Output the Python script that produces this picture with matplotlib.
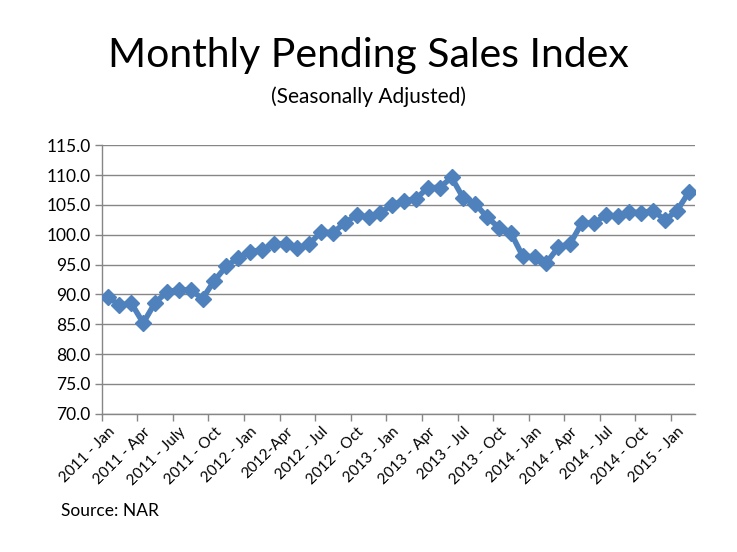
import numpy as np
import matplotlib.pyplot as plt
from matplotlib.ticker import FixedLocator, FormatStrFormatter

plt.rcParams['font.family'] = ['Lato', 'DejaVu Sans']

# --- data (Jan 2011 .. Feb 2015) ---
index_values = [
    89.6, 88.2, 88.5, 85.2, 88.6, 90.4, 90.8, 90.7, 89.3, 92.3,
    94.7, 96.1, 97.1, 97.5, 98.5, 98.4, 97.7, 98.4, 100.5, 100.3,
    102.0, 103.3, 102.9, 103.7, 105.0, 105.7, 106.0, 107.9, 107.9, 109.6,
    106.1, 105.2, 102.9, 101.2, 100.3, 96.4, 96.3, 95.3, 97.9, 98.5,
    102.0, 101.9, 103.3, 103.1, 103.8, 103.7, 104.0, 102.5, 104.0, 107.1,
]
tick_labels = [
    '2011 - Jan', '2011 - Apr', '2011 - July', '2011 - Oct',
    '2012 - Jan', '2012-Apr', '2012 - Jul', '2012 - Oct',
    '2013 - Jan', '2013 - Apr', '2013 - Jul', '2013 - Oct',
    '2014 - Jan', '2014 - Apr', '2014 - Jul', '2014 - Oct',
    '2015 - Jan',
]

x = np.arange(len(index_values))
grey = '#868686'

fig = plt.figure(figsize=(7.37, 5.52), dpi=100)
ax = fig.add_axes([0.138, 0.2505, 0.8046, 0.4865])

ax.plot(x, index_values, color='#4F81BD', linewidth=4, marker='D',
        markersize=8.5, zorder=3, solid_joinstyle='round')

ax.set_xlim(-0.5, len(index_values) - 0.5)
ax.set_ylim(70, 115)
ax.set_yticks(np.arange(70, 115.1, 5))
ax.yaxis.set_major_formatter(FormatStrFormatter('%.1f'))
ax.grid(axis='y', color=grey, linewidth=1)
ax.set_axisbelow(True)

# category labels every 3 months, tick marks on the boundaries
ax.set_xticks(x[::3])
ax.set_xticklabels(tick_labels, rotation=45, ha='right',
                   rotation_mode='anchor', fontsize=11)
ax.xaxis.set_minor_locator(FixedLocator(np.arange(-0.5, len(index_values), 3)))
ax.tick_params(axis='x', which='major', length=0, pad=8)
ax.tick_params(axis='x', which='minor', length=5, color=grey, width=1)
ax.tick_params(axis='y', length=5, color=grey, width=1, labelsize=12.5, pad=3)

for side in ['top', 'right']:
    ax.spines[side].set_visible(False)
for side in ['left', 'bottom']:
    ax.spines[side].set_color(grey)
    ax.spines[side].set_linewidth(1)

fig.text(0.5, 0.90, 'Monthly Pending Sales Index', ha='center', va='center',
         fontsize=29.5)
fig.text(0.5, 0.824, '(Seasonally Adjusted)', ha='center', va='center',
         fontsize=15)
fig.text(0.083, 0.074, 'Source: NAR', ha='left', va='center', fontsize=12.5)

fig.savefig('out.png', dpi=100)
